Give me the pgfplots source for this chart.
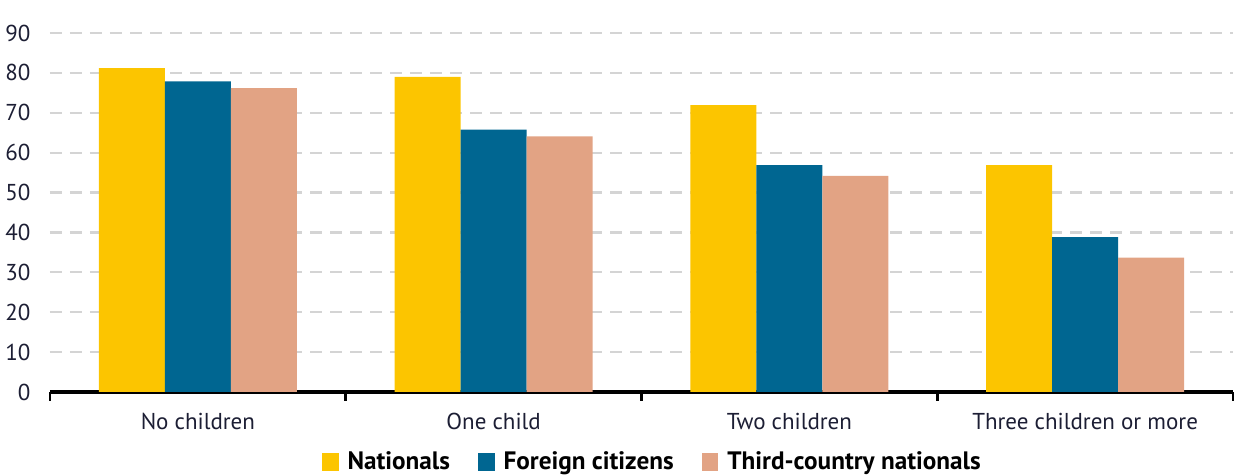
\documentclass[border=0pt]{standalone}
\usepackage{pgfplots}
\pgfplotsset{compat=1.18}
\usepackage{fontspec}
\setmainfont{PT Sans}

\definecolor{natyellow}{RGB}{252,197,0}
\definecolor{forblue}{RGB}{0,102,145}
\definecolor{tcnsalmon}{RGB}{226,163,132}
\definecolor{gridgray}{RGB}{212,212,212}
\definecolor{labeltext}{RGB}{28,30,52}

% Employment rates by number of children (x = category index)
\pgfplotstableread{
x  val
0  81.2
1  79.0
2  71.9
3  56.9
}\nationals
\pgfplotstableread{
x  val
0  77.9
1  65.8
2  56.9
3  38.8
}\foreign
\pgfplotstableread{
x  val
0  76.2
1  64.1
2  54.2
3  33.7
}\thirdcountry

\begin{document}
\begin{tikzpicture}
\begin{axis}[
  name=ax,
  at={(0,0)}, anchor=south west,
  width=591.5pt, height=179.5pt,
  scale only axis,
  ybar=0pt, bar width=33pt,
  xmin=-0.5, xmax=3.5,
  ymin=0, ymax=90,
  axis lines*=left,
  y axis line style={draw=none},
  x axis line style={line width=1.9pt, black},
  xtick={0,1,2,3},
  xticklabels={No children, One child, Two children, Three children or more},
  major x tick style={draw=none},
  minor xtick={-0.5,0.5,1.5,2.5,3.5},
  minor x tick style={line width=1.4pt, black},
  minor tick length=4.5pt,
  tick align=outside,
  ytick={0,10,...,90},
  ytick style={draw=none},
  ymajorgrids,
  major grid style={gridgray, line width=1.1pt, dash pattern=on 6pt off 4pt},
  /pgf/number format/assume math mode=true,
  yticklabel style={font=\fontsize{11.5}{13}\selectfont, text=labeltext, xshift=-2pt},
  xticklabel style={font=\fontsize{11.5}{13}\selectfont, text=labeltext, yshift=-3pt},
  clip=false,
  legend style={
    at={(0.51,-0.195)}, anchor=center,
    draw=none, fill=none,
    legend columns=3,
    font=\bfseries\fontsize{12.6}{14}\selectfont,
    text=black,
    /tikz/every even column/.append style={column sep=12pt},
    /tikz/every odd column/.append style={column sep=2.5pt},
  },
  legend image code/.code={\fill[#1] (0pt,-4.3pt) rectangle (8.3pt,4.3pt);},
]
\addplot[fill=natyellow, draw=none] table[x=x, y=val] {\nationals};
\addplot[fill=forblue, draw=none] table[x=x, y=val] {\foreign};
\addplot[fill=tcnsalmon, draw=none] table[x=x, y=val] {\thirdcountry};
\legend{Nationals, Foreign citizens, Third-country nationals}
\end{axis}
\pgfresetboundingbox
\path[use as bounding box] (-25pt,-42pt) rectangle (595.5pt,196pt);
\end{tikzpicture}
\end{document}
